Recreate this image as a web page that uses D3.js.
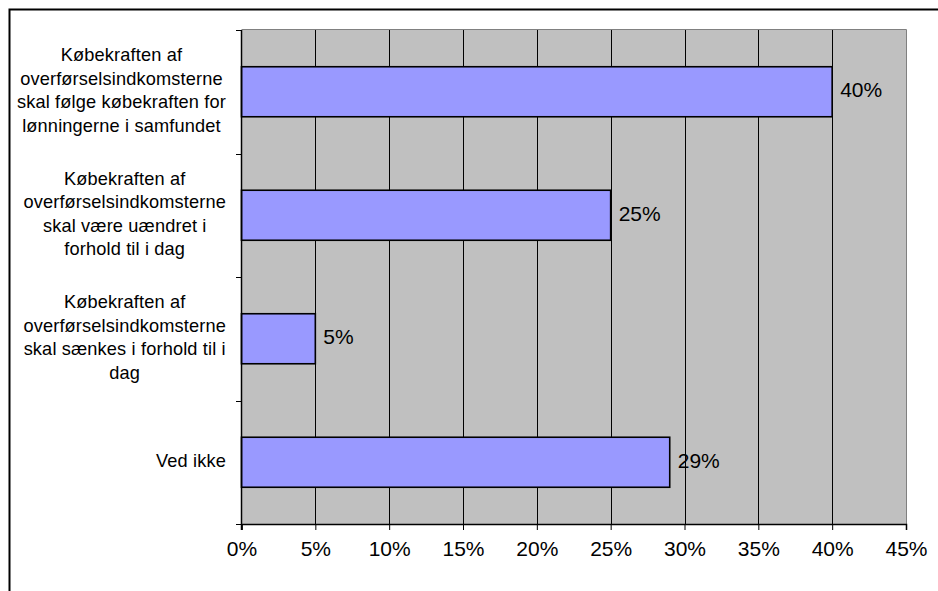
<!DOCTYPE html>
<html>
<head>
<meta charset="utf-8">
<script src="https://cdn.jsdelivr.net/npm/d3@7"></script>
<style>
  html, body { margin: 0; padding: 0; background: #fff; }
  svg { display: block; font-family: "Liberation Sans", Arial, sans-serif; }
</style>
</head>
<body>
<svg id="chart" width="938" height="591"></svg>
<script>
// Survey answers: how should the purchasing power of transfer incomes develop
const categories = [
  "Købekraften af overførselsindkomsterne skal følge købekraften for lønningerne i samfundet",
  "Købekraften af overførselsindkomsterne skal være uændret i forhold til i dag",
  "Købekraften af overførselsindkomsterne skal sænkes i forhold til i dag",
  "Ved ikke"
];
const categoryLines = [
  ["Købekraften af", "overførselsindkomsterne", "skal følge købekraften for", "lønningerne i samfundet"],
  ["Købekraften af", "overførselsindkomsterne", "skal være uændret i", "forhold til i dag"],
  ["Købekraften af", "overførselsindkomsterne", "skal sænkes i forhold til i", "dag"],
  ["Ved ikke"]
];
const values = [0.40, 0.25, 0.05, 0.29];
const tickValues = [0, 0.05, 0.10, 0.15, 0.20, 0.25, 0.30, 0.35, 0.40, 0.45];

const svg = d3.select("#chart");
const plot = { left: 241.5, right: 906, top: 30, bottom: 524 };

const x = d3.scaleLinear().domain([0, 0.45]).range([plot.left, plot.right]);
const y = d3.scaleBand().domain(categories).range([plot.top, plot.bottom])
  .paddingInner(0.595).paddingOuter(0.2975);
const pct = d3.format(".0%");

// Outer frame (left and top edges; the rest runs off the canvas)
svg.append("rect")
  .attr("x", 9.5).attr("y", 9.5).attr("width", 960).attr("height", 620)
  .attr("fill", "none").attr("stroke", "#000").attr("stroke-width", 2);

// Plot background
svg.append("rect")
  .attr("x", plot.left).attr("y", plot.top)
  .attr("width", plot.right - plot.left).attr("height", plot.bottom - plot.top)
  .attr("fill", "#c0c0c0");

// Vertical gridlines
svg.append("g").selectAll("line")
  .data(tickValues.filter(t => t > 0 && t < 0.45))
  .join("line")
  .attr("x1", d => Math.round(x(d)) + 0.5).attr("x2", d => Math.round(x(d)) + 0.5)
  .attr("y1", plot.top).attr("y2", plot.bottom)
  .attr("stroke", "#000").attr("stroke-width", 1);

// Plot border (top and right)
svg.append("path")
  .attr("d", `M${plot.left},${plot.top - 0.5}H${plot.right + 0.5}V${plot.bottom}`)
  .attr("fill", "none").attr("stroke", "#808080").attr("stroke-width", 1);

// Bars
svg.append("g").selectAll("rect")
  .data(values)
  .join("rect")
  .attr("x", x(0))
  .attr("y", (d, i) => y(categories[i]))
  .attr("width", d => x(d) - x(0))
  .attr("height", y.bandwidth())
  .attr("fill", "#9999ff")
  .attr("stroke", "#000").attr("stroke-width", 1.6);

// Value labels
svg.append("g").selectAll("text")
  .data(values)
  .join("text")
  .attr("x", d => x(d) + 8)
  .attr("y", (d, i) => y(categories[i]) + y.bandwidth() / 2 + 5.5)
  .attr("font-size", 21)
  .attr("fill", "#000")
  .text(d => pct(d));

// X axis
const xAxis = svg.append("g")
  .attr("transform", `translate(0,${plot.bottom})`)
  .call(d3.axisBottom(x).tickValues(tickValues).tickFormat(pct).tickSizeOuter(0).tickSize(6).tickPadding(11));
xAxis.select(".domain").attr("stroke", "#000").attr("stroke-width", 1.5);
xAxis.selectAll(".tick line").attr("stroke", "#000");
xAxis.selectAll(".tick text")
  .attr("font-family", "Liberation Sans, Arial, sans-serif")
  .attr("font-size", 21).attr("fill", "#000");

// Y axis line with ticks at category boundaries
const yAxisG = svg.append("g");
yAxisG.append("line")
  .attr("x1", plot.left).attr("x2", plot.left)
  .attr("y1", plot.top).attr("y2", plot.bottom + 6)
  .attr("stroke", "#000").attr("stroke-width", 1.5);
const boundaries = categories.map(c => y(c) - y.step() * y.paddingInner() / 2 * 0)
  .map((_, i) => plot.top + i * y.step()).concat([plot.bottom]);
yAxisG.selectAll("line.tk")
  .data(boundaries)
  .join("line").attr("class", "tk")
  .attr("x1", plot.left - 5.5).attr("x2", plot.left)
  .attr("y1", d => Math.round(d) + 0.5).attr("y2", d => Math.round(d) + 0.5)
  .attr("stroke", "#000").attr("stroke-width", 1);

// Category labels: wrapped lines centred within a block right-aligned to the axis
const labelRight = 226;
const lineH = 23.5;
categoryLines.forEach((lines, i) => {
  const cy = y(categories[i]) + y.bandwidth() / 2;
  const g = svg.append("g");
  const texts = g.selectAll("text")
    .data(lines)
    .join("text")
    .attr("font-size", 18.2)
    .attr("letter-spacing", 0.15)
    .attr("fill", "#000")
    .attr("text-anchor", "middle")
    .attr("y", (d, j) => cy + (j - (lines.length - 1) / 2) * lineH + 4.5)
    .text(d => d);
  let maxW = 0;
  texts.each(function () { maxW = Math.max(maxW, this.getComputedTextLength()); });
  texts.attr("x", labelRight - maxW / 2);
});
</script>
</body>
</html>
